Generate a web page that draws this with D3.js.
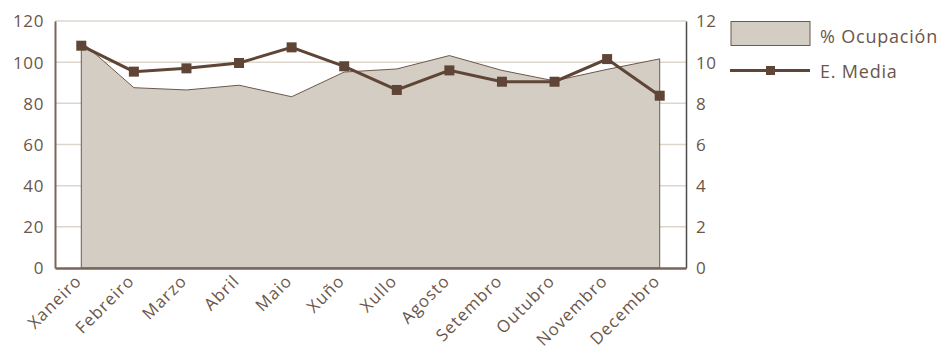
<!DOCTYPE html>
<html>
<head>
<meta charset="utf-8">
<script src="https://cdn.jsdelivr.net/npm/d3@7"></script>
<style>
  html, body { margin: 0; padding: 0; background: #ffffff; }
  svg text { font-family: "Open Sans", "Noto Sans", sans-serif; fill: #6b564a; }
</style>
</head>
<body>
<svg id="chart" width="942" height="355"></svg>
<script>
// Monthly data
const months = ["Xaneiro", "Febreiro", "Marzo", "Abril", "Maio", "Xuño", "Xullo", "Agosto", "Setembro", "Outubro", "Novembro", "Decembro"];
const ocupacion = [110, 87.6, 86.5, 88.8, 83.2, 95.2, 96.7, 103.2, 96, 90.9, 96.5, 101.6];
const estadiaMedia = [10.8, 9.54, 9.7, 9.96, 10.72, 9.8, 8.65, 9.6, 9.05, 9.05, 10.15, 8.37];
const leftTicks = [0, 20, 40, 60, 80, 100, 120];
const rightTicks = [0, 2, 4, 6, 8, 10, 12];
const legendLabels = ["% Ocupación", "E. Media"];

const colors = {
  area: "#d4cdc3",
  areaStroke: "#6e584b",
  line: "#5f4536",
  grid: "#ddd6cc",
  axis: "#7a655a",
  rightAxis: "#4a4a4a",
  text: "#6b564a"
};

const svg = d3.select("#chart");
const m = { left: 55, right: 686, top: 21, bottom: 268 };

const x = d3.scalePoint().domain(months).range([m.left, m.right]).padding(0.5);
const yL = d3.scaleLinear().domain([0, 120]).range([m.bottom, m.top]);
const yR = d3.scaleLinear().domain([0, 12]).range([m.bottom, m.top]);

// Gridlines
svg.append("g")
  .selectAll("line")
  .data(leftTicks.filter(d => d > 0))
  .join("line")
  .attr("x1", m.left).attr("x2", m.right)
  .attr("y1", d => yL(d)).attr("y2", d => yL(d))
  .attr("stroke", colors.grid).attr("stroke-width", 1.5);

// Area for occupancy
const area = d3.area()
  .x((d, i) => x(months[i]))
  .y0(yL(0))
  .y1(d => yL(d));
svg.append("path")
  .datum(ocupacion)
  .attr("d", area)
  .attr("fill", colors.area)
  .attr("stroke", colors.areaStroke)
  .attr("stroke-width", 1);

function styleTicks(sel, size, spacing) {
  sel.selectAll("text")
    .attr("font-size", size)
    .style("font-family", "'Open Sans', sans-serif")
    .style("letter-spacing", spacing + "px")
    .attr("fill", colors.text);
}

// Left axis
const axL = svg.append("g")
  .attr("transform", `translate(${m.left},0)`)
  .call(d3.axisLeft(yL).tickValues(leftTicks).tickSize(0).tickPadding(11));
axL.select(".domain").attr("stroke", colors.axis).attr("stroke-width", 2);
styleTicks(axL, 17, 0.6);
axL.selectAll("text").attr("dy", "0.35em");

// Right axis
const axR = svg.append("g")
  .attr("transform", `translate(${m.right},0)`)
  .call(d3.axisRight(yR).tickValues(rightTicks).tickSize(0).tickPadding(10));
axR.select(".domain").attr("stroke", colors.rightAxis).attr("stroke-width", 1.5);
styleTicks(axR, 17, 0.6);
axR.selectAll("text").attr("dy", "0.35em");

// Bottom axis
const axB = svg.append("g")
  .attr("transform", `translate(0,${m.bottom})`)
  .call(d3.axisBottom(x).tickSize(0).tickPadding(0));
axB.select(".domain").attr("stroke", colors.axis).attr("stroke-width", 2.5);
styleTicks(axB, 16.8, 1.1);
axB.selectAll("text")
  .attr("text-anchor", "end")
  .attr("dy", 0)
  .attr("y", 0)
  .attr("transform", "translate(1,14) rotate(-45)");

// Average stay line
const line = d3.line()
  .x((d, i) => x(months[i]))
  .y(d => yR(d));
svg.append("path")
  .datum(estadiaMedia)
  .attr("d", line)
  .attr("fill", "none")
  .attr("stroke", colors.line)
  .attr("stroke-width", 3);
const ms = 10;
svg.append("g")
  .selectAll("rect")
  .data(estadiaMedia)
  .join("rect")
  .attr("x", (d, i) => x(months[i]) - ms / 2)
  .attr("y", d => yR(d) - ms / 2)
  .attr("width", ms).attr("height", ms)
  .attr("fill", colors.line);

// Legend
const lg = svg.append("g");
lg.append("rect")
  .attr("x", 731).attr("y", 21.5).attr("width", 79).attr("height", 24)
  .attr("fill", colors.area).attr("stroke", colors.areaStroke).attr("stroke-width", 1);
lg.append("text").attr("x", 820).attr("y", 43).attr("font-size", 18)
  .style("letter-spacing", "0.8px").text(legendLabels[0]);
lg.append("line")
  .attr("x1", 730).attr("x2", 810).attr("y1", 70.5).attr("y2", 70.5)
  .attr("stroke", colors.line).attr("stroke-width", 3);
lg.append("rect")
  .attr("x", 766).attr("y", 66).attr("width", 9).attr("height", 9)
  .attr("fill", colors.line);
lg.append("text").attr("x", 820).attr("y", 78).attr("font-size", 18)
  .style("letter-spacing", "0.8px").text(legendLabels[1]);
</script>
</body>
</html>
